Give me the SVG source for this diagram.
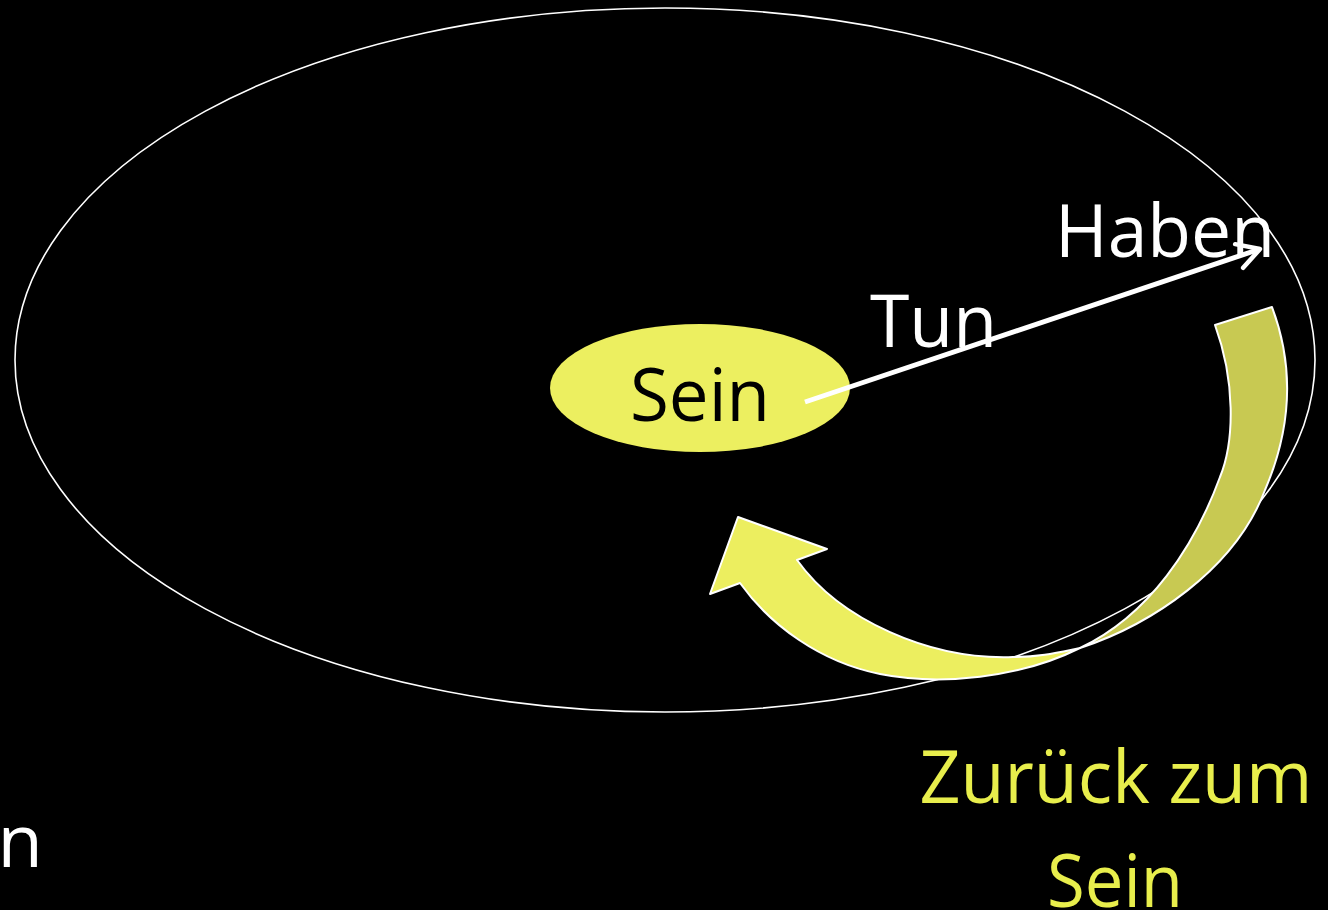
<svg xmlns="http://www.w3.org/2000/svg" width="1328" height="910" viewBox="0 0 1328 910">
<defs>
<style>
.t{font-family:"Open Sans","Noto Sans","Liberation Sans",sans-serif;font-size:74px}
.w{fill:#ffffff}
.y{fill:#E8EE4C}
.k{fill:#000000}
.edge{fill:none;stroke:#ffffff;stroke-width:1.6}
.band{stroke:#ffffff;stroke-width:2;stroke-linejoin:round}
</style>
<marker id="open" markerUnits="userSpaceOnUse" viewBox="-26 -16 30 32" refX="0" refY="0" markerWidth="30" markerHeight="32" orient="auto">
<path d="M-22,-12.5 L0,0 L-22,12.5" fill="none" stroke="#ffffff" stroke-width="4.5" stroke-linecap="round" stroke-linejoin="round"/>
</marker>
</defs>
<rect width="1328" height="910" fill="#000000"/>
<g id="outer-ellipse">
<ellipse class="edge" cx="665" cy="360" rx="650" ry="352"/>
</g>
<g id="sein-node">
<ellipse cx="700" cy="388" rx="150" ry="64" fill="#ECEF60"/>
<text class="t k" x="700" y="421" text-anchor="middle" textLength="140" lengthAdjust="spacingAndGlyphs">Sein</text>
</g>
<g id="tun-label">
<text class="t w" x="870" y="347" textLength="127" lengthAdjust="spacingAndGlyphs">Tun</text>
</g>
<g id="haben-node">
<text class="t w" x="1055" y="257" textLength="220" lengthAdjust="spacingAndGlyphs">Haben</text>
</g>
<g id="connectors">
<line x1="805" y1="402" x2="1260" y2="249" stroke="#ffffff" stroke-width="5" stroke-linecap="butt" marker-end="url(#open)"/>
<g id="return-arrow">
<path class="band" fill="#C8C952" d="M1080,648 C1150,625 1235,570 1265,490 C1295,420 1292,360 1272,307 L1215,325 C1235,380 1235,440 1220,477 C1195,545 1150,615 1080,648 Z"/>
<path class="band" fill="#ECEE5F" d="M740,583 L710,594 L738,517 L827,549 L797,560 C840,620 930,660 1013,657 C1040,657 1060,652 1080,648 C1020,678 940,686 880,674 C820,662 770,625 740,583 Z"/>
</g>
</g>
<g id="zurueck-label">
<text class="t y" x="1116" y="803" text-anchor="middle" textLength="393" lengthAdjust="spacingAndGlyphs">Zurück zum</text>
<text class="t y" x="1115" y="907" text-anchor="middle" textLength="136" lengthAdjust="spacingAndGlyphs">Sein</text>
</g>
<g id="cut-label">
<text class="t w" x="43" y="867" text-anchor="end">en</text>
</g>
</svg>
